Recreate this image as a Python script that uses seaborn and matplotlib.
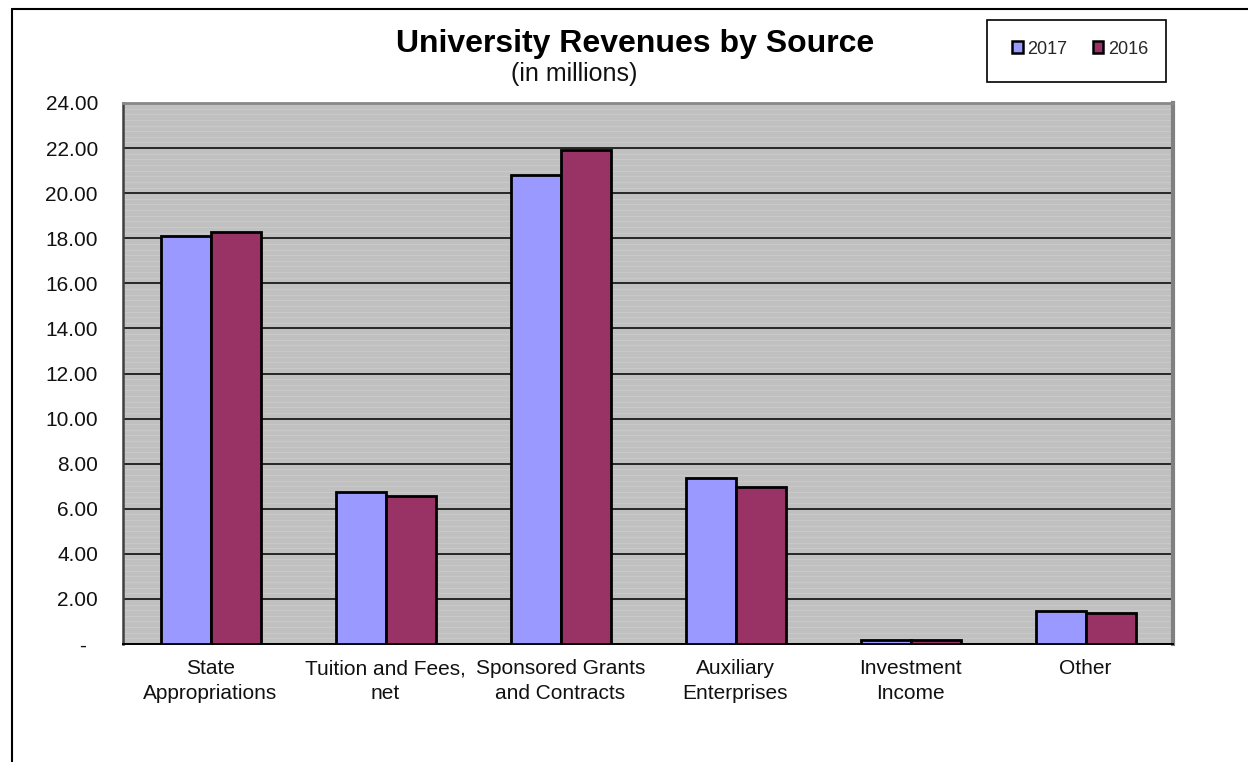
import matplotlib

matplotlib.use("Agg")
import matplotlib.pyplot as plt
import pandas as pd
import seaborn as sns
from matplotlib.lines import Line2D
from matplotlib.patches import Patch, Rectangle
from matplotlib.ticker import FixedLocator, FuncFormatter, MultipleLocator

# values (millions)
sources = [
    "State\nAppropriations",
    "Tuition and Fees,\nnet",
    "Sponsored Grants\nand Contracts",
    "Auxiliary\nEnterprises",
    "Investment\nIncome",
    "Other",
]
revenue_2017 = [18.08, 6.74, 20.81, 7.36, 0.17, 1.46]
revenue_2016 = [18.28, 6.57, 21.92, 6.97, 0.16, 1.36]
years = ["2017", "2016"]
year_colors = {"2017": "#9999FF", "2016": "#993366"}

df = pd.DataFrame(
    {
        "source": sources * 2,
        "year": ["2017"] * len(sources) + ["2016"] * len(sources),
        "value": revenue_2017 + revenue_2016,
    }
)

sns.set_theme(style="white")
plt.rcParams["font.family"] = ["Liberation Sans", "DejaVu Sans"]

fig = plt.figure(figsize=(12.48, 7.62), dpi=100)
ax = fig.add_axes([123 / 1248, 118 / 762, 1050 / 1248, 541 / 762])
ax.set_facecolor("#C0C0C0")

sns.barplot(
    data=df,
    x="source",
    y="value",
    hue="year",
    hue_order=years,
    order=sources,
    palette=year_colors,
    saturation=1,
    width=100 / 175,
    edgecolor="black",
    linewidth=2,
    legend=False,
    ax=ax,
    zorder=3,
)

ax.set_xlim(-0.5, len(sources) - 0.5)
ax.set_ylim(0, 24)
ax.yaxis.set_major_locator(MultipleLocator(2))
ax.yaxis.set_minor_locator(MultipleLocator(0.25))
ax.yaxis.set_major_formatter(
    FuncFormatter(lambda v, _: "-  " if abs(v) < 1e-9 else f"{v:.2f}")
)
ax.grid(axis="y", which="major", color="#1a1a1a", linewidth=1.3, zorder=1)
ax.grid(axis="y", which="minor", color="#CBCBCB", linewidth=0.6, zorder=0)
ax.grid(axis="x", visible=False)
ax.set_axisbelow(True)

ax.xaxis.set_minor_locator(FixedLocator([i - 0.5 for i in range(len(sources) + 1)]))
ax.tick_params(axis="x", which="major", length=0, pad=11, labelsize=15, labelcolor="#111111")
ax.tick_params(axis="x", which="minor", length=6, width=1.2, color="black", direction="out")
ax.tick_params(axis="y", which="major", length=6, width=1.2, color="#333333",
               direction="out", pad=12, labelsize=15, labelcolor="#111111")
ax.tick_params(axis="y", which="minor", length=0)
for label in ax.get_xticklabels():
    label.set_linespacing(1.35)
ax.set_xlabel("")
ax.set_ylabel("")

ax.spines["left"].set_color("#404040")
ax.spines["left"].set_linewidth(1.8)
ax.spines["bottom"].set_color("black")
ax.spines["bottom"].set_linewidth(1.4)
ax.spines["top"].set_color("#888888")
ax.spines["top"].set_linewidth(2)
ax.spines["right"].set_color("#808080")
ax.spines["right"].set_linewidth(3)

fig.text(635 / 1248, 1 - 44 / 762, "University Revenues by Source",
         ha="center", va="center", fontsize=23, fontweight="bold", color="black")
fig.text(574 / 1248, 1 - 74 / 762, "(in millions)",
         ha="center", va="center", fontsize=18, color="#111111")

# legend box
fig.patches.append(
    Rectangle((987 / 1248, 1 - 82 / 762), 179 / 1248, 62 / 762,
              transform=fig.transFigure, facecolor="white",
              edgecolor="black", linewidth=1.2)
)
handles = [Patch(facecolor=year_colors[y], edgecolor="black", linewidth=1.8) for y in years]
fig.legend(
    handles, years, loc="center", bbox_to_anchor=(1080 / 1248, 1 - 49 / 762),
    ncol=2, frameon=False, fontsize=13, handlelength=0.6, handleheight=0.6,
    handletextpad=0.25, columnspacing=1.4, borderaxespad=0,
)

# chart area frame (top and left edges)
fig.add_artist(Line2D([12 / 1248, 1], [1 - 9 / 762, 1 - 9 / 762],
                      transform=fig.transFigure, color="black", linewidth=1.5))
fig.add_artist(Line2D([12 / 1248, 12 / 1248], [0, 1 - 9 / 762],
                      transform=fig.transFigure, color="black", linewidth=1.5))

fig.savefig("out.png", dpi=100, facecolor="white")
